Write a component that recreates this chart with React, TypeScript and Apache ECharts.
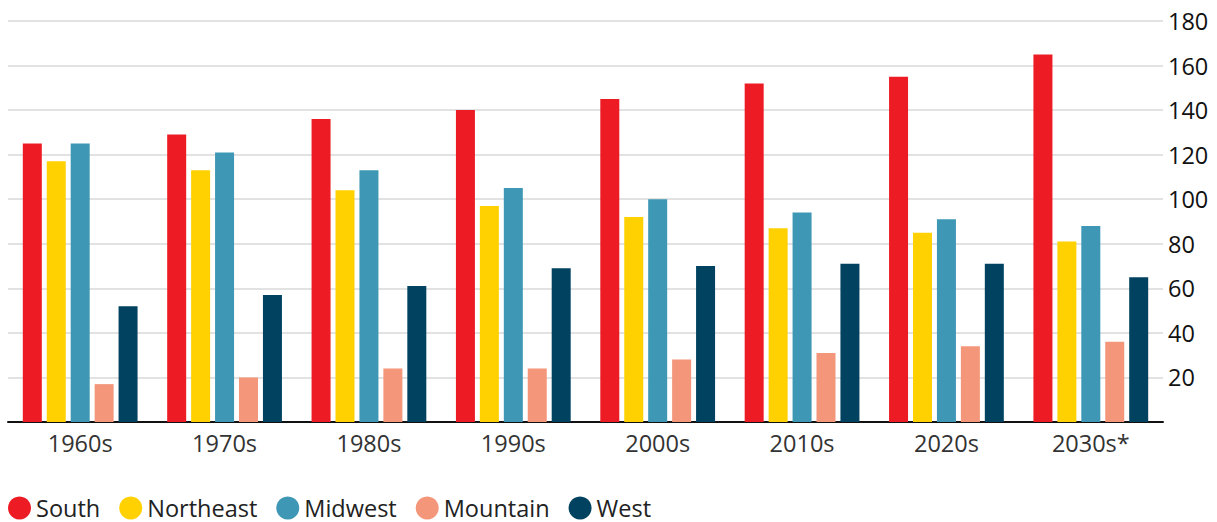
import React, { useEffect, useRef } from "react";
import * as echarts from "echarts";

const categories = ["1960s", "1970s", "1980s", "1990s", "2000s", "2010s", "2020s", "2030s*"];
const south = [125, 129, 136, 140, 145, 152, 155, 165];
const northeast = [117, 113, 104, 97, 92, 87, 85, 81];
const midwest = [125, 121, 113, 105, 100, 94, 91, 88];
const mountain = [17, 20, 24, 24, 28, 31, 34, 36];
const west = [52, 57, 61, 69, 70, 71, 71, 65];

const seriesDefs = [
  { name: "South", data: south, color: "#ed1c24" },
  { name: "Northeast", data: northeast, color: "#ffd100" },
  { name: "Midwest", data: midwest, color: "#3d97b5" },
  { name: "Mountain", data: mountain, color: "#f4967a" },
  { name: "West", data: west, color: "#00425f" },
];

const FONT = "'Open Sans', 'Noto Sans', sans-serif";

export default function App() {
  const ref = useRef<HTMLDivElement>(null);
  useEffect(() => {
    document.body.style.margin = "0";
    const chart = echarts.init(ref.current!, null, { renderer: "svg" });
    chart.setOption({
      animation: false,
      textStyle: { fontFamily: FONT },
      grid: { left: 8, right: 54, top: 21, bottom: 100, containLabel: false },
      legend: {
        left: 3,
        top: 491,
        padding: [5, 5, 0, 5],
        icon: "circle",
        itemWidth: 23,
        itemHeight: 23,
        itemGap: 19,
        textStyle: { fontSize: 23.5, lineHeight: 24, color: "#222", fontFamily: FONT },
        data: seriesDefs.map((s) => s.name),
      },
      xAxis: {
        type: "category",
        data: categories,
        axisTick: { show: false },
        axisLine: { lineStyle: { color: "#111", width: 2 } },
        axisLabel: { fontSize: 23.5, color: "#333", margin: 9, fontFamily: FONT },
      },
      yAxis: {
        type: "value",
        position: "right",
        min: 0,
        max: 180,
        interval: 20,
        axisLine: { show: false },
        axisTick: { show: false },
        splitLine: { lineStyle: { color: "#e2e2e2", width: 2 } },
        axisLabel: {
          fontSize: 23.5,
          color: "#111",
          margin: 5,
          fontFamily: FONT,
          formatter: (v: number) => (v === 0 ? "" : String(v)),
        },
      },
      series: seriesDefs.map((s) => ({
        name: s.name,
        type: "bar",
        data: s.data,
        barWidth: 19,
        barGap: "26%",
        itemStyle: { color: s.color },
      })),
    });
    return () => chart.dispose();
  }, []);
  return <div ref={ref} style={{ width: 1217, height: 522 }} />;
}
